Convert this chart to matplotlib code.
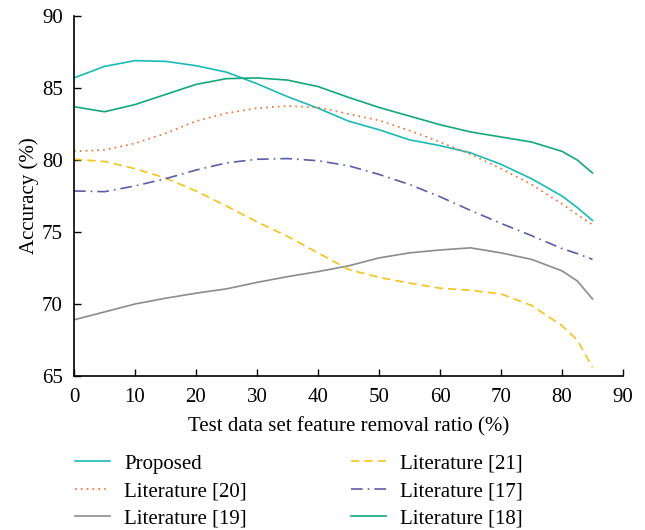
import matplotlib
matplotlib.use('Agg')
import matplotlib.pyplot as plt

# removal ratio (%) shared by every series
ratio = [0, 5, 10, 15, 20, 25, 30, 35, 40, 45, 50, 55, 60, 65, 70, 75, 80, 82.5, 85]

proposed = [85.7, 86.5, 86.9, 86.85, 86.55, 86.1, 85.3, 84.4, 83.6, 82.7, 82.1, 81.4,
            81.0, 80.5, 79.7, 78.7, 77.5, 76.7, 75.8]
lit20 = [80.6, 80.7, 81.15, 81.85, 82.7, 83.25, 83.6, 83.75, 83.65, 83.2, 82.75, 82.05,
         81.25, 80.4, 79.4, 78.3, 76.95, 76.2, 75.5]
lit19 = [68.9, 69.45, 70.0, 70.4, 70.75, 71.05, 71.5, 71.9, 72.25, 72.65, 73.2, 73.55,
         73.75, 73.9, 73.55, 73.1, 72.3, 71.6, 70.35]
lit21 = [80.05, 79.9, 79.4, 78.75, 77.85, 76.8, 75.7, 74.7, 73.55, 72.4, 71.85, 71.45,
         71.1, 70.95, 70.7, 69.9, 68.5, 67.5, 65.6]
lit17 = [77.85, 77.8, 78.2, 78.7, 79.3, 79.8, 80.05, 80.1, 79.95, 79.6, 79.0, 78.3,
         77.45, 76.5, 75.6, 74.75, 73.85, 73.5, 73.1]
lit18 = [83.7, 83.35, 83.85, 84.55, 85.25, 85.65, 85.7, 85.55, 85.1, 84.35, 83.65, 83.05,
         82.45, 81.95, 81.6, 81.25, 80.6, 80.0, 79.1]

xticks = list(range(0, 91, 10))
yticks = [65, 70, 75, 80, 85, 90]

plt.rcParams['font.family'] = ['Liberation Serif', 'DejaVu Serif']
fs = 15

fig = plt.figure(figsize=(6.45, 5.3), dpi=100)
ax = fig.add_axes([74 / 645, 1 - 376 / 530, (623 - 74) / 645, (376 - 16) / 530])

lw = 1.2
l1, = ax.plot(ratio, proposed, color='#1bbab6', lw=lw, label='Proposed')
l2, = ax.plot(ratio, lit20, color='#f26a2e', lw=lw, ls=(0, (1, 2.5)), label='Literature [20]')
l3, = ax.plot(ratio, lit19, color='#8c8c8c', lw=lw, label='Literature [19]')
l4, = ax.plot(ratio, lit21, color='#f7c21c', lw=lw, ls=(0, (5, 3)), label='Literature [21]')
l5, = ax.plot(ratio, lit17, color='#5b5ea8', lw=lw, ls=(0, (7, 3, 1, 3)), label='Literature [17]')
l6, = ax.plot(ratio, lit18, color='#13a87a', lw=lw, label='Literature [18]')

ax.set_xlim(0, 90)
ax.set_ylim(65, 90)
ax.set_xticks(xticks)
ax.set_yticks(yticks)
ax.tick_params(direction='in', length=5, width=1, labelsize=fs)
ax.tick_params(axis='x', pad=9)
ax.tick_params(axis='y', pad=8)
for s in ['top', 'right']:
    ax.spines[s].set_visible(False)
for s in ['left', 'bottom']:
    ax.spines[s].set_linewidth(1.2)
ax.set_xlabel('Test data set feature removal ratio (%)', fontsize=fs, labelpad=7)
ax.set_ylabel('Accuracy (%)', fontsize=fs, labelpad=2)

fig.legend(handles=[l1, l2, l3, l4, l5, l6], ncol=2, frameon=False,
           loc='upper left', bbox_to_anchor=(75 / 645, 1 - 454 / 530),
           fontsize=fs, handlelength=1.7, handletextpad=0.65,
           columnspacing=5.0, labelspacing=0.38, borderpad=0, borderaxespad=0)

fig.savefig('out.png', dpi=100)
